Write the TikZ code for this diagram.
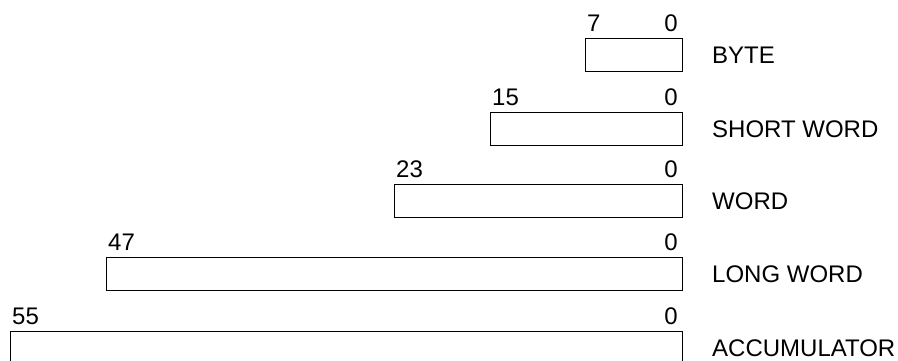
\documentclass[tikz,border=0pt]{standalone}
\usepackage{fontspec}
\setmainfont{Liberation Sans}
\begin{document}
\begin{tikzpicture}[x=1pt,y=-1pt,
  regbox/.style={draw=black, line width=1pt, fill=white, inner sep=0pt,
    minimum height=33pt, anchor=north east},
  bitlbl/.style={font=\fontsize{24}{27}\selectfont, inner sep=0pt},
  namelbl/.style={font=\fontsize{24}{27}\selectfont, inner sep=0pt, anchor=base west}]
\useasboundingbox (0,0) rectangle (898,360);
\clip (0,0) rectangle (898,360);
% rows
\foreach \nm/\top/\w/\hi/\txt in {b/38/97/7/BYTE, s/112/192/15/SHORT WORD, w/184/288/23/WORD, l/257/576/47/LONG WORD, a/331/672/55/ACCUMULATOR}{
  \node[regbox, minimum width=\w pt] (box\nm) at (683,\top) {};
  \node[bitlbl, anchor=base west] (hi\nm) at ([xshift=2pt,yshift=7pt]box\nm.north west) {\hi};
  \node[bitlbl, anchor=base east] (lo\nm) at ([xshift=-5pt,yshift=7pt]box\nm.north east) {0};
  \node[namelbl] (name\nm) at ([xshift=29pt,yshift=-25pt]box\nm.north east) {\txt};
}
\end{tikzpicture}
\end{document}
